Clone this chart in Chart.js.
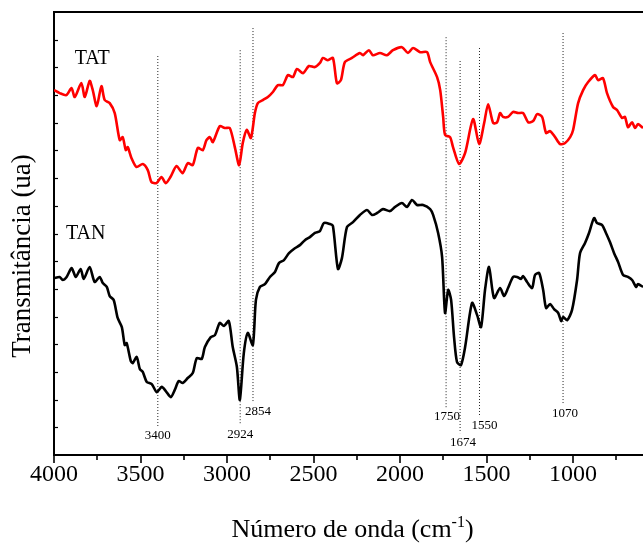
<!DOCTYPE html>
<html>
<head>
<meta charset="utf-8">
<title>FTIR TAT / TAN</title>
<script src="https://cdn.jsdelivr.net/npm/chart.js@4.4.1/dist/chart.umd.min.js"></script>
<style>
  html, body { margin: 0; padding: 0; background: #fff; }
  #chart { display: block; }
</style>
</head>
<body>
<canvas id="chart" width="643" height="544"></canvas>
<script>
// TAT spectrum (red)
const tatWavenumber = [
  4000, 3967, 3928, 3899, 3880, 3842, 3822, 3794, 3776, 3753,
  3726, 3707, 3678, 3649, 3620, 3603, 3585, 3574, 3552, 3523,
  3487, 3458, 3437, 3408, 3379, 3354, 3327, 3292, 3257, 3227,
  3198, 3169, 3140, 3119, 3099, 3082, 3042, 3013, 2984, 2955,
  2930, 2909, 2886, 2862, 2839, 2822, 2793, 2764, 2735, 2706,
  2677, 2648, 2619, 2596, 2561, 2527, 2492, 2463, 2446, 2417,
  2388, 2365, 2342, 2319, 2278, 2232, 2214, 2180, 2157, 2116,
  2076, 2041, 1989, 1954, 1925, 1884, 1844, 1826, 1786, 1768,
  1751, 1740, 1711, 1694, 1659, 1624, 1578, 1543, 1514, 1491,
  1462, 1439, 1422, 1405, 1376, 1347, 1318, 1289, 1260, 1231,
  1208, 1179, 1156, 1133, 1104, 1075, 1046, 1017, 1000, 971,
  942, 913, 873, 856, 827, 804, 769, 746, 717, 700,
  683, 659, 642, 625, 596
];
const tatTransmittance = [
  13.18, 13.07, 13.00, 13.25, 12.93, 13.43, 12.93, 13.51, 13.18, 12.60,
  13.32, 12.82, 12.71, 12.35, 11.37, 11.48, 11.01, 11.12, 10.72, 10.40,
  10.51, 10.29, 9.86, 9.82, 10.04, 9.82, 10.04, 10.44, 10.18, 10.54,
  10.47, 11.09, 11.01, 11.37, 11.48, 11.30, 11.88, 11.81, 11.81, 11.12,
  10.47, 11.27, 11.74, 11.45, 12.35, 12.71, 12.82, 12.93, 13.11, 13.36,
  13.36, 13.72, 13.65, 13.94, 13.79, 14.05, 14.01, 14.16, 14.34, 14.26,
  14.34, 13.43, 13.54, 14.19, 14.34, 14.52, 14.44, 14.62, 14.44, 14.52,
  14.44, 14.62, 14.73, 14.52, 14.70, 14.55, 14.55, 14.19, 13.65, 13.18,
  12.21, 11.56, 11.48, 11.12, 10.51, 10.91, 12.13, 11.23, 11.99, 12.67,
  11.99, 12.02, 12.35, 12.21, 12.21, 12.39, 12.35, 12.35, 12.02, 12.06,
  12.31, 12.21, 11.63, 11.70, 11.48, 11.23, 11.27, 11.48, 11.74, 12.71,
  13.18, 13.47, 13.72, 13.54, 13.61, 13.07, 12.57, 12.46, 12.17, 12.21,
  11.84, 12.02, 11.81, 11.95, 11.81
];

// TAN spectrum (black)
const tanWavenumber = [
  4000, 3967, 3950, 3927, 3898, 3874, 3846, 3828, 3794, 3765,
  3736, 3718, 3695, 3678, 3655, 3632, 3608, 3591, 3580, 3556,
  3545, 3522, 3504, 3487, 3464, 3435, 3406, 3377, 3354, 3325,
  3302, 3279, 3256, 3227, 3198, 3175, 3146, 3128, 3094, 3070,
  3042, 3018, 2990, 2967, 2943, 2926, 2903, 2880, 2851, 2833,
  2810, 2781, 2752, 2723, 2700, 2671, 2642, 2608, 2579, 2550,
  2521, 2492, 2463, 2440, 2405, 2388, 2359, 2336, 2307, 2272,
  2232, 2191, 2162, 2133, 2099, 2058, 2029, 1989, 1960, 1931,
  1902, 1867, 1826, 1809, 1780, 1757, 1740, 1722, 1705, 1688,
  1671, 1648, 1624, 1584, 1555, 1532, 1509, 1486, 1457, 1422,
  1399, 1376, 1347, 1324, 1301, 1289, 1266, 1237, 1220, 1196,
  1173, 1156, 1133, 1110, 1086, 1069, 1057, 1034, 1006, 977,
  960, 931, 908, 879, 862, 833, 810, 787, 763, 740,
  711, 683, 659, 636, 625, 596
];
const tanTransmittance = [
  6.39, 6.43, 6.32, 6.43, 6.75, 6.43, 6.72, 6.36, 6.79, 6.25,
  6.43, 6.21, 6.07, 5.74, 5.60, 4.95, 4.62, 3.97, 4.04, 3.39,
  3.32, 3.54, 3.11, 3.00, 2.64, 2.56, 2.27, 2.46, 2.31, 2.09,
  2.35, 2.67, 2.60, 2.78, 2.96, 3.50, 3.47, 3.90, 4.26, 4.33,
  4.77, 4.66, 4.84, 3.90, 3.18, 1.99, 3.68, 4.41, 3.97, 5.60,
  6.07, 6.17, 6.43, 6.61, 6.93, 7.04, 7.29, 7.47, 7.58, 7.76,
  7.87, 8.02, 8.09, 8.38, 8.34, 8.27, 6.72, 7.11, 8.23, 8.41,
  8.67, 8.85, 8.67, 8.74, 8.88, 8.81, 8.96, 9.10, 8.96, 9.21,
  9.03, 9.03, 8.88, 8.67, 8.02, 7.15, 5.13, 5.96, 5.60, 4.26,
  3.36, 3.25, 3.90, 5.49, 5.06, 4.62, 5.96, 6.79, 5.67, 6.03,
  5.74, 6.03, 6.43, 6.43, 6.36, 6.46, 6.25, 6.03, 6.50, 6.57,
  5.96, 5.31, 5.45, 5.27, 5.13, 4.84, 4.98, 4.87, 5.24, 6.32,
  7.29, 7.66, 8.02, 8.56, 8.38, 8.31, 8.02, 7.69, 7.29, 6.97,
  6.50, 6.43, 6.32, 6.07, 6.17, 6.07
];

// marked bands (dotted lines)
const peakWavenumber = [3400, 2924, 2850, 1734, 1653, 1541, 1058];
const peakLabels = ["3400", "2924", "2854", "1750", "1674", "1550", "1070"];
const peakTop = [14.41, 14.62, 15.42, 15.09, 14.23, 14.70, 15.24];
const peakBottom = [1.01, 1.08, 1.91, 1.70, 0.79, 1.37, 1.81];

const xTicks = [4000, 3500, 3000, 2500, 2000, 1500, 1000];
const seriesNames = ["TAT", "TAN"];

// layout only (not data)
const SERIF = '"Liberation Serif", "DejaVu Serif", serif';
const peakLabelDx = [0, 0, 5, 1, 3, 5, 2];
const nameSpots = [{ x: 3779, y: 14.3 }, { x: 3817, y: 7.98 }];

const toPoints = (xs, ys) => xs.map((v, i) => ({ x: v, y: ys[i] }));

const datasets = [
  {
    data: toPoints(tatWavenumber, tatTransmittance),
    borderColor: "#ff0000",
    borderWidth: 2.6,
    pointRadius: 0,
    tension: 0.25,
  },
  {
    data: toPoints(tanWavenumber, tanTransmittance),
    borderColor: "#000000",
    borderWidth: 2.6,
    pointRadius: 0,
    tension: 0.25,
  },
];
peakWavenumber.forEach((w, i) => {
  datasets.push({
    data: [{ x: w, y: peakTop[i] }, { x: w, y: peakBottom[i] }],
    borderColor: "#222",
    borderWidth: 1,
    borderDash: [1, 2],
    pointRadius: 0,
  });
});

const decor = {
  id: "decor",
  afterDraw(chart) {
    const { ctx, chartArea: a, scales } = chart;
    const x = scales.x, y = scales.y;
    ctx.save();
    ctx.strokeStyle = "#000";
    ctx.fillStyle = "#000";

    // top frame
    ctx.lineWidth = 2;
    ctx.beginPath();
    ctx.moveTo(a.left - 1, a.top);
    ctx.lineTo(a.right, a.top);
    ctx.stroke();

    // inward y ticks
    ctx.lineWidth = 1.2;
    for (let v = 1; v < 16; v++) {
      const py = Math.round(y.getPixelForValue(v)) + 0.5;
      ctx.beginPath();
      ctx.moveTo(a.left, py);
      ctx.lineTo(a.left + 4, py);
      ctx.stroke();
    }

    // outward x ticks, minor every 250
    ctx.lineWidth = 1.6;
    for (let w = 4000; w >= x.min; w -= 250) {
      const px = Math.round(x.getPixelForValue(w));
      const len = w % 500 === 0 ? 8 : 5;
      ctx.beginPath();
      ctx.moveTo(px, a.bottom);
      ctx.lineTo(px, a.bottom + len);
      ctx.stroke();
    }

    // series names
    ctx.font = "20px " + SERIF;
    ctx.textAlign = "center";
    ctx.textBaseline = "middle";
    seriesNames.forEach((name, i) => {
      ctx.fillText(name, x.getPixelForValue(nameSpots[i].x), y.getPixelForValue(nameSpots[i].y));
    });

    // peak labels
    ctx.font = "13px " + SERIF;
    peakLabels.forEach((lab, i) => {
      const px = x.getPixelForValue(peakWavenumber[i]) + peakLabelDx[i];
      const py = y.getPixelForValue(peakBottom[i]) + 9;
      ctx.fillText(lab, px, py);
    });

    // y title
    ctx.save();
    ctx.font = "27px " + SERIF;
    ctx.translate(23, 256);
    ctx.rotate(-Math.PI / 2);
    ctx.fillText("Transmitância (ua)", 0, 0);
    ctx.restore();

    // x title with superscript
    const main = "Número de onda (cm", sup = "-1", tail = ")";
    ctx.font = "26px " + SERIF;
    const wMain = ctx.measureText(main).width;
    const wTail = ctx.measureText(tail).width;
    ctx.font = "16px " + SERIF;
    const wSup = ctx.measureText(sup).width;
    let sx = 352.5 - (wMain + wSup + wTail) / 2;
    const base = 537;
    ctx.textAlign = "left";
    ctx.textBaseline = "alphabetic";
    ctx.font = "26px " + SERIF;
    ctx.fillText(main, sx, base);
    sx += wMain;
    ctx.font = "16px " + SERIF;
    ctx.fillText(sup, sx, base - 10);
    sx += wSup;
    ctx.font = "26px " + SERIF;
    ctx.fillText(tail, sx, base);
    ctx.restore();
  },
};

new Chart(document.getElementById("chart"), {
  type: "line",
  data: { datasets },
  options: {
    responsive: false,
    animation: false,
    devicePixelRatio: 1,
    layout: { padding: { top: 12, left: 0, right: 0, bottom: 0 } },
    plugins: {
      legend: { display: false },
      tooltip: { enabled: false },
    },
    scales: {
      x: {
        type: "linear",
        reverse: true,
        min: 596,
        max: 4000,
        afterBuildTicks: (scale) => {
          scale.ticks = xTicks.map((v) => ({ value: v }));
        },
        afterFit: (scale) => {
          scale.height = 89;
        },
        grid: { display: false, drawTicks: false, tickLength: 0 },
        border: { display: true, color: "#000", width: 2 },
        ticks: {
          color: "#000",
          padding: 5,
          maxRotation: 0,
          font: { family: SERIF, size: 24 },
          callback: (v) => String(v),
        },
      },
      y: {
        min: 0,
        max: 16,
        afterFit: (scale) => {
          scale.width = 54;
        },
        grid: { display: false, drawTicks: false },
        border: { display: true, color: "#000", width: 2 },
        ticks: { display: false },
      },
    },
  },
  plugins: [decor],
});
</script>
</body>
</html>
